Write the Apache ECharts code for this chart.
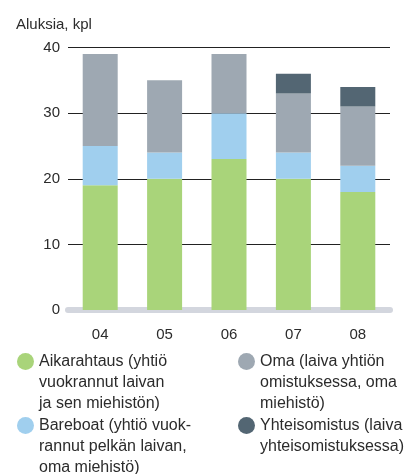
<!DOCTYPE html>
<html>
<head>
<meta charset="utf-8">
<script src="https://cdn.jsdelivr.net/npm/echarts@6/dist/echarts.min.js"></script>
<style>
html, body { margin: 0; padding: 0; background: #fff; }
#main { width: 411px; height: 474px; }
</style>
</head>
<body>
<div id="main"></div>
<script>
// data
var years = ['04', '05', '06', '07', '08'];
var aikarahtaus = [19, 20, 23, 20, 18];
var bareboat = [6, 4, 7, 4, 4];
var oma = [14, 11, 9, 9, 9];
var yhteis = [0, 0, 0, 3, 3];

var names = [
    'Aikarahtaus (yhtiö\nvuokrannut laivan\nja sen miehistön)',
    'Bareboat (yhtiö vuok-\nrannut pelkän laivan,\noma miehistö)',
    'Oma (laiva yhtiön\nomistuksessa, oma\nmiehistö)',
    'Yhteisomistus (laiva\nyhteisomistuksessa)'
];
var colors = ['#a9d47a', '#a0cfee', '#9ea8b2', '#536673'];

var font = 'Liberation Sans, Arial, sans-serif';

// blank lines on top so the icon sits next to the first line
function makeLegend(name, left, top) {
    var n = name.split('\n').length;
    var blank = new Array(n).join(' \n');
    return {
        data: [name],
        left: left,
        top: top,
        padding: 0,
        icon: 'circle',
        itemWidth: 17,
        itemHeight: 17,
        selectedMode: false,
        formatter: function (s) { return blank + s; },
        textStyle: {
            color: '#2b2b2b',
            fontSize: 16,
            fontFamily: font,
            lineHeight: 21
        }
    };
}

var myChart = echarts.init(document.getElementById('main'));

var option = {
    animation: false,
    title: {
        text: 'Aluksia, kpl',
        left: 11,
        top: 12,
        textStyle: { color: '#2b2b2b', fontSize: 15, fontWeight: 'normal', fontFamily: font }
    },
    legend: [
        makeLegend(names[0], 17, 309),
        makeLegend(names[1], 17, 373),
        makeLegend(names[2], 238, 309),
        makeLegend(names[3], 238, 394)
    ],
    grid: { left: 68, right: 21, top: 47.5, bottom: 164, containLabel: false },
    xAxis: {
        type: 'category',
        data: years,
        offset: 3,
        axisLine: { lineStyle: { color: '#d3d6de', width: 6 } },
        axisTick: { show: false },
        axisLabel: { color: '#2b2b2b', fontSize: 15, fontFamily: font, margin: 14 }
    },
    yAxis: {
        type: 'value',
        min: 0,
        max: 40,
        interval: 10,
        axisLine: { show: false },
        axisTick: { show: false },
        axisLabel: { color: '#2b2b2b', fontSize: 15, fontFamily: font, margin: 8 },
        splitLine: { lineStyle: { color: '#222', width: 1 } }
    },
    series: [
        { name: names[0], type: 'bar', stack: 'a', barWidth: 35, data: aikarahtaus, itemStyle: { color: colors[0] } },
        { name: names[1], type: 'bar', stack: 'a', barWidth: 35, data: bareboat, itemStyle: { color: colors[1] } },
        { name: names[2], type: 'bar', stack: 'a', barWidth: 35, data: oma, itemStyle: { color: colors[2] } },
        { name: names[3], type: 'bar', stack: 'a', barWidth: 35, data: yhteis, itemStyle: { color: colors[3] } }
    ]
};

myChart.setOption(option);
</script>
</body>
</html>
